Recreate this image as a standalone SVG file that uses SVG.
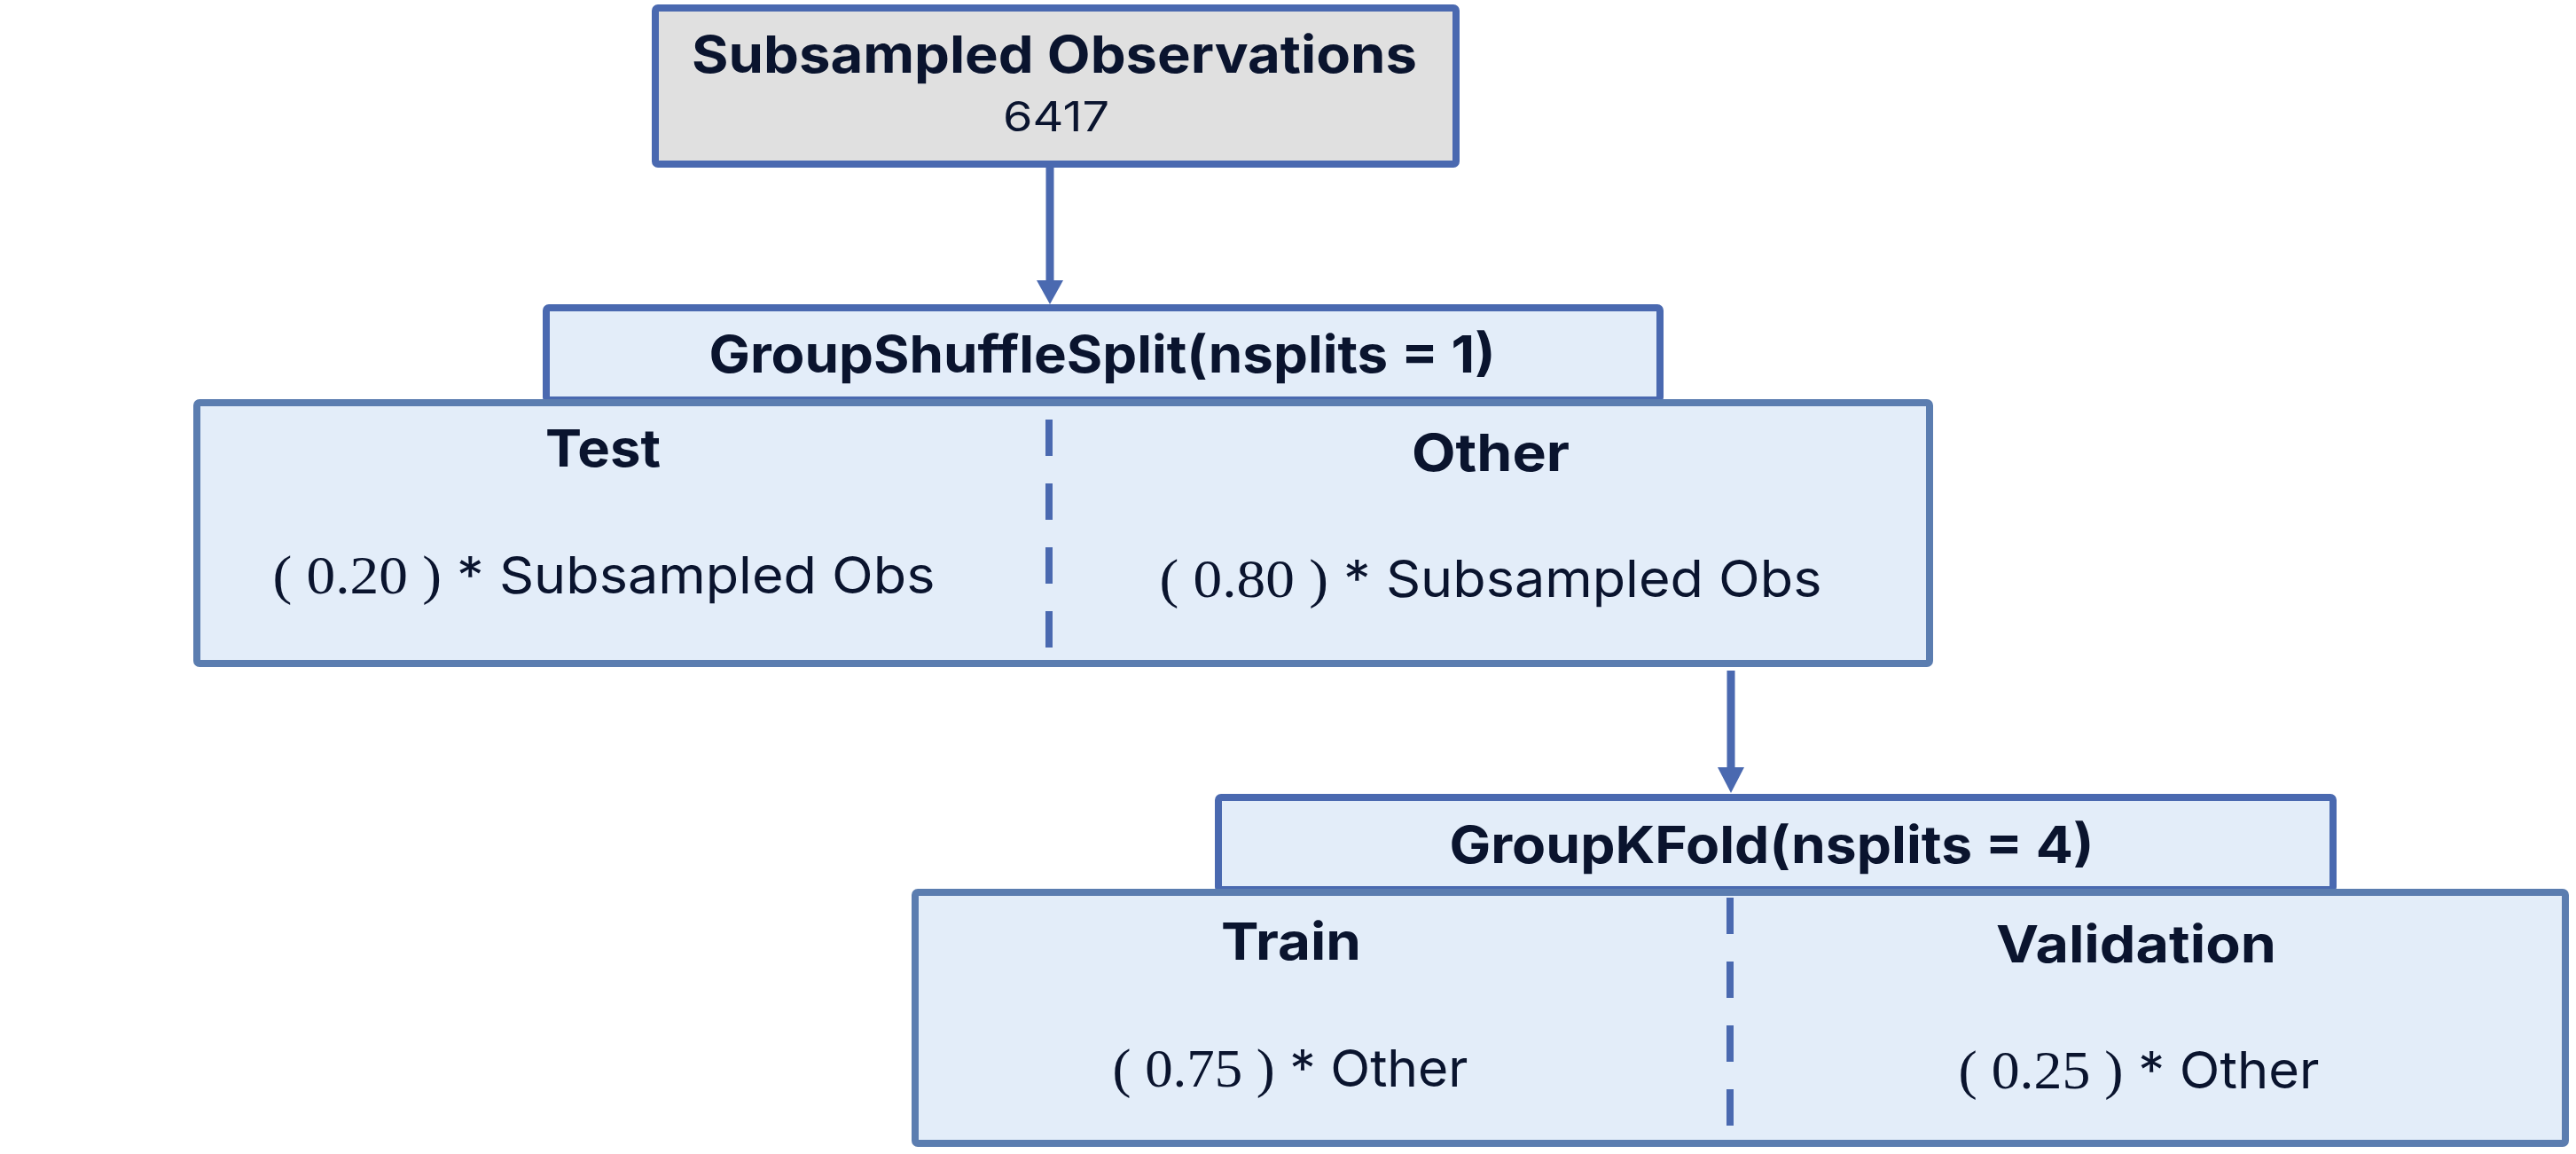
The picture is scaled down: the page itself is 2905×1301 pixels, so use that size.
<svg xmlns="http://www.w3.org/2000/svg" width="2905" height="1301" viewBox="0 0 2905 1301">
<style>
  .bold { font-family: Inter, "Open Sans", "Liberation Sans", sans-serif; font-weight: 700; fill: #0a142e; text-anchor: middle; }
  .reg { font-family: Inter, "Open Sans", "Liberation Sans", sans-serif; font-weight: 400; fill: #0a142e; text-anchor: middle; }
  .num { font-family: "Liberation Serif", serif; font-size: 62px; }
  .hdr { fill: #e3edf9; stroke: #4a69b0; stroke-width: 8; }
  .panel { fill: #e3edf9; stroke: #5b7db0; stroke-width: 8; }
  .divider { stroke: #4a69b0; stroke-width: 8; stroke-dasharray: 41 31; fill: none; }
  .conn { stroke: #4a69b0; stroke-width: 9; fill: none; }
  .head { fill: #4a69b0; }
</style>
<rect width="2905" height="1301" fill="#ffffff"/>

<g id="connectors">
  <line class="conn" x1="1184" y1="187" x2="1184" y2="320"/>
  <path class="head" d="M1169,316 L1199,316 L1184,343 Z"/>
  <line class="conn" x1="1952" y1="756" x2="1952" y2="868"/>
  <path class="head" d="M1937,865 L1967,865 L1952,894 Z"/>
</g>

<g id="subsampled-observations">
  <rect x="739" y="9" width="903" height="176" rx="3" fill="#e0e0e0" stroke="#4a69b0" stroke-width="8"/>
  <text class="bold" x="1189" y="82" font-size="58" textLength="818" lengthAdjust="spacingAndGlyphs">Subsampled Observations</text>
  <text class="reg" x="1191" y="148" font-size="46" textLength="120" lengthAdjust="spacingAndGlyphs">6417</text>
</g>

<g id="group-shuffle-split">
  <rect class="hdr" x="616" y="347" width="1256" height="104" rx="3"/>
  <text class="bold" x="1243" y="420" font-size="58" textLength="887" lengthAdjust="spacingAndGlyphs">GroupShuffleSplit(nsplits = 1)</text>
</g>

<g id="test-other">
  <rect class="panel" x="222" y="454" width="1954" height="294" rx="3"/>
  <line class="divider" x1="1183" y1="473" x2="1183" y2="732"/>
  <text class="bold" x="680" y="526" font-size="58" textLength="130" lengthAdjust="spacingAndGlyphs">Test</text>
  <text class="reg" x="681" y="669" font-size="58" textLength="747" lengthAdjust="spacingAndGlyphs"><tspan class="num">( 0.20 )</tspan> * Subsampled Obs</text>
  <text class="bold" x="1681" y="531" font-size="58" textLength="178" lengthAdjust="spacingAndGlyphs">Other</text>
  <text class="reg" x="1681" y="673" font-size="58" textLength="747" lengthAdjust="spacingAndGlyphs"><tspan class="num">( 0.80 )</tspan> * Subsampled Obs</text>
</g>

<g id="group-k-fold">
  <rect class="hdr" x="1374" y="899" width="1257" height="104" rx="3"/>
  <text class="bold" x="1998" y="973" font-size="58" textLength="727" lengthAdjust="spacingAndGlyphs">GroupKFold(nsplits = 4)</text>
</g>

<g id="train-validation">
  <rect class="panel" x="1032" y="1006" width="1861" height="283" rx="3"/>
  <line class="divider" x1="1951" y1="1012" x2="1951" y2="1270"/>
  <text class="bold" x="1456" y="1082" font-size="58" textLength="158" lengthAdjust="spacingAndGlyphs">Train</text>
  <text class="reg" x="1455" y="1225" font-size="58" textLength="401" lengthAdjust="spacingAndGlyphs"><tspan class="num">( 0.75 )</tspan> * Other</text>
  <text class="bold" x="2409" y="1085" font-size="58" textLength="316" lengthAdjust="spacingAndGlyphs">Validation</text>
  <text class="reg" x="2412" y="1227" font-size="58" textLength="407" lengthAdjust="spacingAndGlyphs"><tspan class="num">( 0.25 )</tspan> * Other</text>
</g>
</svg>
